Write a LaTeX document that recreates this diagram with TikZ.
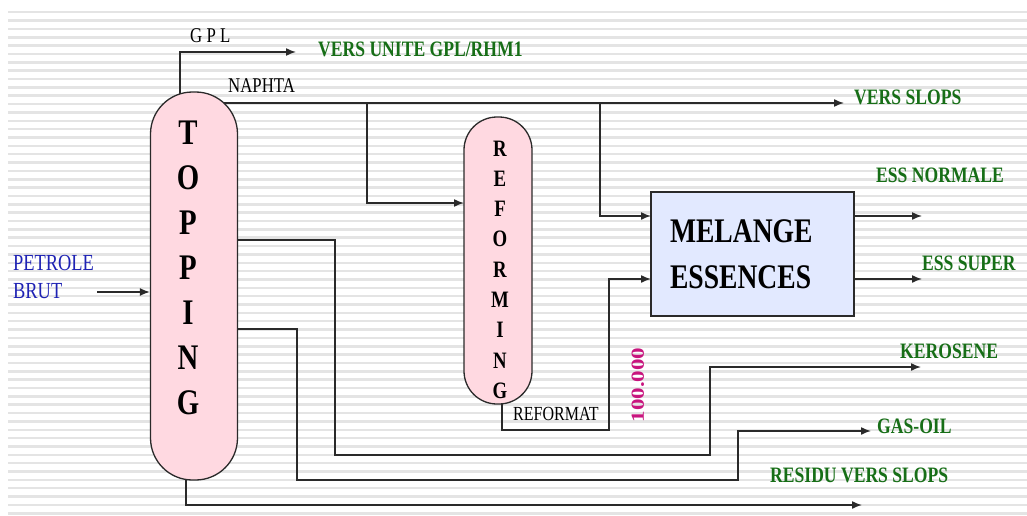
\documentclass[tikz,border=0pt]{standalone}
\usepackage{fontspec}
\setmainfont[FakeStretch=0.8]{Liberation Serif}
\newfontfamily\plainserif{Liberation Serif}
\usepackage{graphicx}
\usepackage{tikz}
\usetikzlibrary{arrows.meta, positioning}
\usepackage{xcolor}
\definecolor{columnpink}{HTML}{FFD9E1}
\definecolor{mixblue}{HTML}{E2E9FF}
\definecolor{outgreen}{HTML}{176E17}
\definecolor{crudeblue}{HTML}{1E22B4}
\definecolor{rose}{HTML}{C8157E}
\definecolor{pipe}{HTML}{2A2A2A}
\definecolor{stripe}{HTML}{E4E4E4}
\pgfdeclarelayer{stripes}
\pgfdeclarelayer{pipes}
\pgfsetlayers{stripes,pipes,main}
\tikzset{
  column/.style={draw=pipe, line width=1.3pt, fill=columnpink},
  flow/.style={draw=pipe, line width=1.5pt, -{Latex[length=10pt,width=8pt]}},
  outlbl/.style={anchor=base west, inner sep=0pt, text=outgreen, font=\fontsize{22}{26}\selectfont\bfseries},
  plainlbl/.style={anchor=base west, inner sep=0pt, font=\fontsize{21}{25}\selectfont},
  toplet/.style={anchor=base, inner sep=0pt, font=\fontsize{36}{40}\selectfont\bfseries},
  reflet/.style={anchor=base, inner sep=0pt, font=\fontsize{23.5}{26}\selectfont\bfseries},
}

\begin{document}
\begin{tikzpicture}[x=1pt, y=-1pt]
  \useasboundingbox (0,0) rectangle (1027,516);
  % striped background
  \begin{pgfonlayer}{stripes}
    \fill[white] (0,0) rectangle (1027,516);
    \foreach \k in {0,...,60}
      \fill[stripe] (8,{11+8.35*\k}) rectangle (1027,{13.5+8.35*\k});
  \end{pgfonlayer}

  % units
  \node[column, rounded corners=42pt, minimum width=87pt, minimum height=388pt] (topping) at (194,286) {};
  \foreach \ch [count=\i from 0] in {T,O,P,P,I,N,G}
    \node[toplet] (topl\i) at (188,{144+45*\i}) {\ch};
  \node[column, rounded corners=33pt, minimum width=68pt, minimum height=287pt] (reforming) at (498,260.5) {};
  \foreach \ch [count=\i from 0] in {R,E,F,O,R,M,I,N,G}
    \node[reflet] (refl\i) at (500,{156+30.3*\i}) {\ch};
  \node[draw=pipe, line width=1.3pt, fill=mixblue, minimum width=203pt, minimum height=124pt,
        text width=165pt, inner xsep=19pt, align=left, font=\fontsize{34.5}{46}\selectfont\bfseries] (melange) at (752.5,254) {MELANGE\\ESSENCES};

  % labels
  \node[plainlbl] (gpllbl) at (190,43) {G P L};
  \node[outlbl] (rhmlbl) at (318,57) {VERS UNITE GPL/RHM1};
  \node[plainlbl] (naphtalbl) at (228,93) {NAPHTA};
  \node[outlbl] (slopslbl) at (854,105) {VERS SLOPS};
  \node[outlbl] (normlbl) at (876,182) {ESS NORMALE};
  \node[outlbl] (superlbl) at (922,270) {ESS SUPER};
  \node[outlbl] (kerolbl) at (900,358) {KEROSENE};
  \node[outlbl] (gaslbl) at (877,433) {GAS-OIL};
  \node[outlbl] (residulbl) at (770,482) {RESIDU VERS SLOPS};
  \node[plainlbl, text=crudeblue, font=\fontsize{23}{29}\selectfont] (crudelbl) at (13,270) {PETROLE};
  \node[plainlbl, text=crudeblue, font=\fontsize{23}{29}\selectfont] (brutlbl) at (13,298) {BRUT};
  \node[plainlbl, font=\fontsize{20}{24}\selectfont] (reformatlbl) at (513,420) {REFORMAT};
  \node[rotate=90, inner sep=0pt, text=rose, font=\plainserif\fontsize{23}{26}\selectfont\bfseries] (capalbl) at (638,385) {\scalebox{1}[0.8]{100.000}};

  % ends and bends of the lines
  \coordinate (gplend) at (296,52);
  \coordinate (slopsend) at (844,103);
  \coordinate (naphtaref) at (367,103);
  \coordinate (naphtamel) at (600,103);
  \coordinate (refin) at (464,203);
  \coordinate (melin1) at (651,216);
  \coordinate (melin2) at (651,279);
  \coordinate (refout) at (609,430);
  \coordinate (essn) at (922,216);
  \coordinate (esss) at (922,279);
  \coordinate (kertap) at (0,240);
  \coordinate (kerbend1) at (335,455);
  \coordinate (kerbend2) at (710,367);
  \coordinate (kerend) at (921,367);
  \coordinate (gotap) at (0,329);
  \coordinate (gobend1) at (297,480);
  \coordinate (gobend2) at (738,431);
  \coordinate (goend) at (871,431);
  \coordinate (resend) at (862,505);
  \coordinate (crudein) at (97,292);

  \begin{pgfonlayer}{pipes}
    \draw[flow] ([xshift=-14pt]topping.center) |- (gplend);
    \draw[flow] (topping.center |- slopsend) -- (slopsend);
    \draw[flow] (naphtaref) |- (refin);
    \draw[flow] (naphtamel) |- (melin1);
    \draw[flow] ([xshift=4pt]reforming.center) |- (refout) |- (melin2);
    \draw[flow] (melange.center |- essn) -- (essn);
    \draw[flow] (melange.center |- esss) -- (esss);
    \draw[flow] (topping.center |- kertap) -| (kerbend1) -| (kerbend2) -- (kerend);
    \draw[flow] (topping.center |- gotap) -| (gobend1) -| (gobend2) -- (goend);
    \draw[flow] ([xshift=-8pt]topping.center) |- (resend);
    \draw[flow] (crudein) -- (topping.west |- crudein);
  \end{pgfonlayer}
\end{tikzpicture}
\end{document}
